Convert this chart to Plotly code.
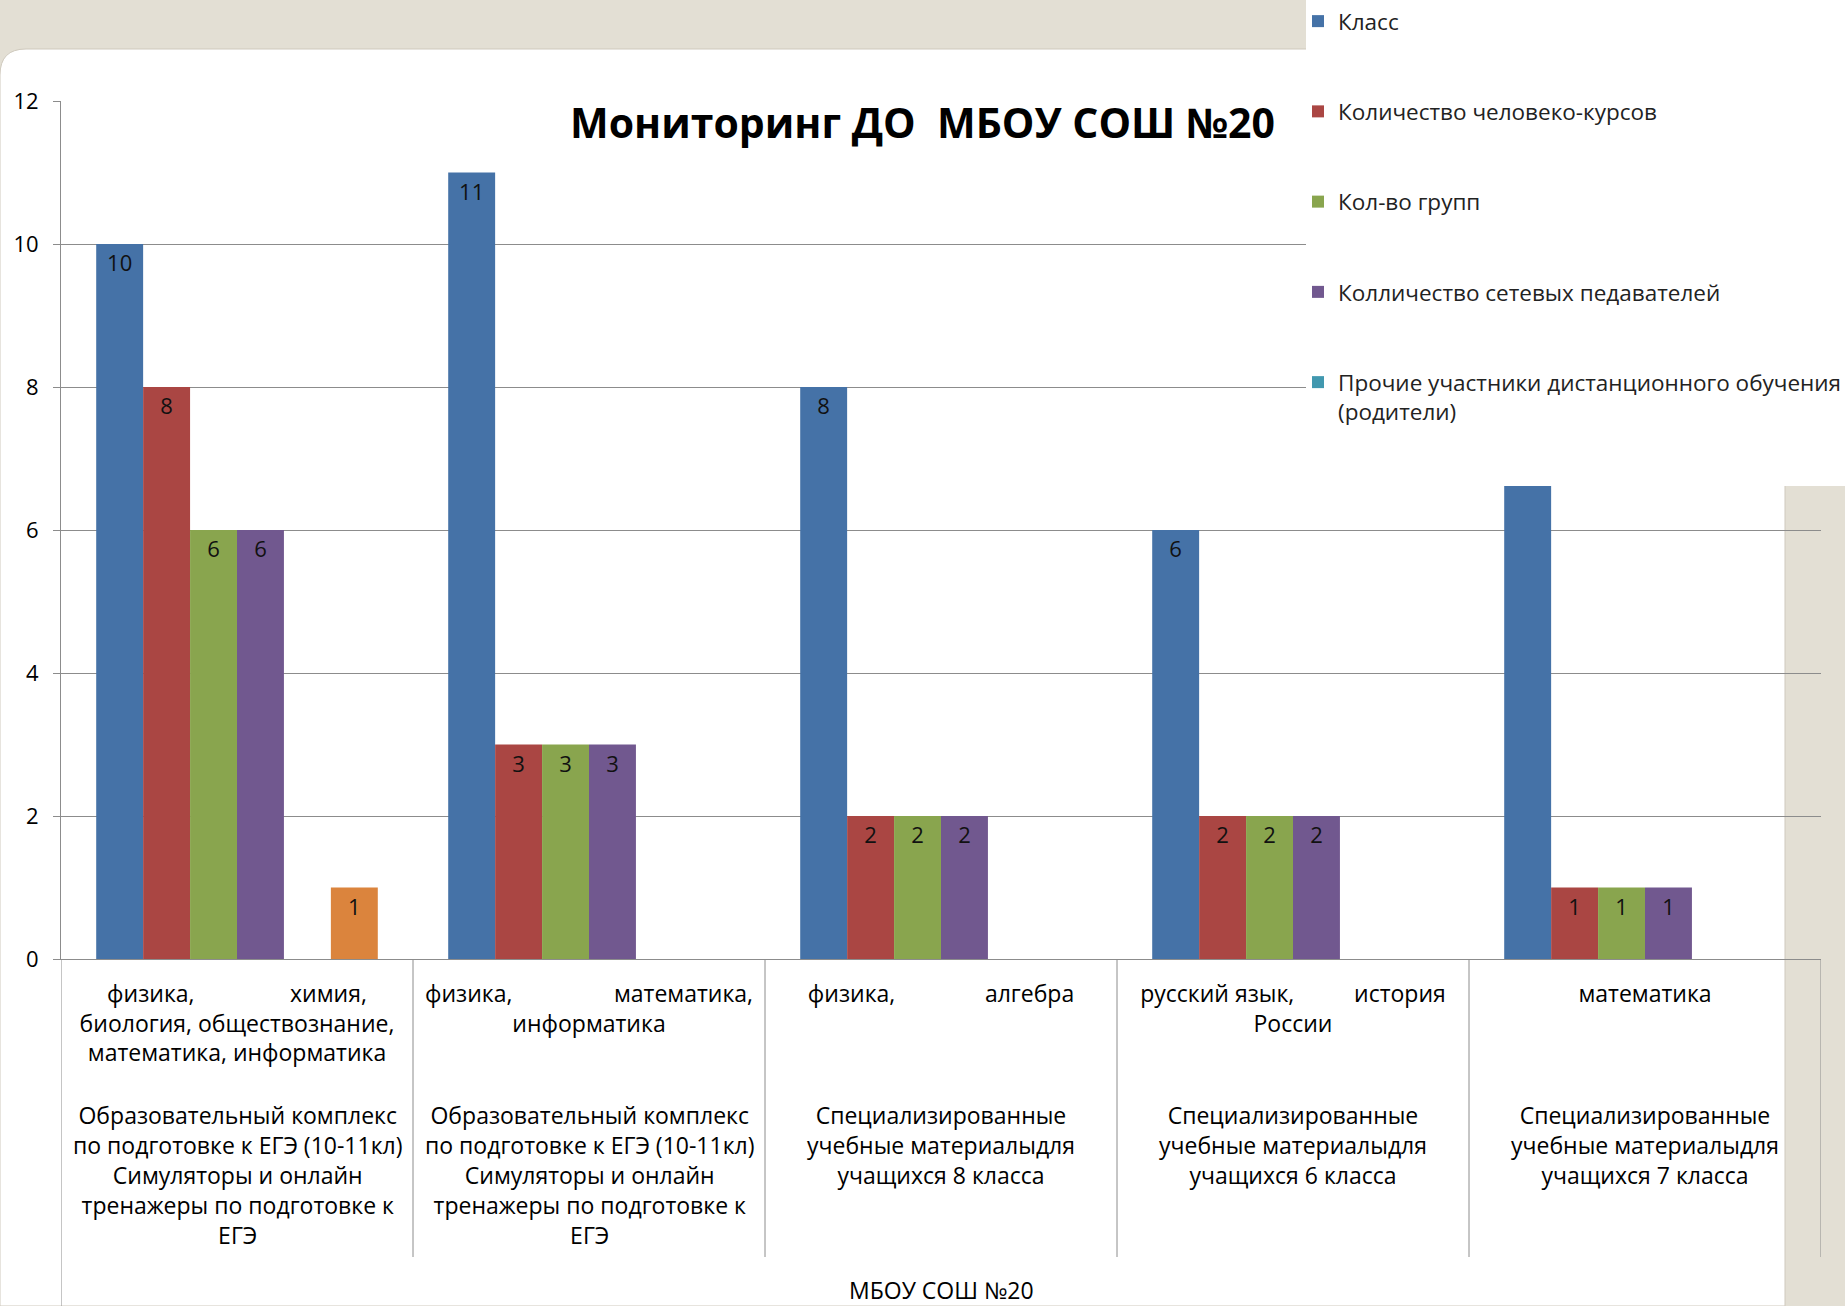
import plotly.graph_objects as go

NB = "\u00a0"

# ---------------- data ----------------
categories = [
    "физика," + NB * 16 + "химия,<br>биология, обществознание,<br>математика, информатика",
    "физика," + NB * 17 + "математика,<br>информатика",
    "физика," + NB * 15 + "алгебра",
    "русский язык," + NB * 10 + "история<br>России",
    "математика",
]
products = [
    "Образовательный комплекс<br>по подготовке к ЕГЭ (10-11кл)<br>Симуляторы и онлайн<br>тренажеры по подготовке к<br>ЕГЭ",
    "Образовательный комплекс<br>по подготовке к ЕГЭ (10-11кл)<br>Симуляторы и онлайн<br>тренажеры по подготовке к<br>ЕГЭ",
    "Специализированные<br>учебные материалыдля<br>учащихся 8 класса",
    "Специализированные<br>учебные материалыдля<br>учащихся 6 класса",
    "Специализированные<br>учебные материалыдля<br>учащихся 7 класса",
]
group_label = "МБОУ СОШ №20"
title_text = "Мониторинг ДО" + NB * 2 + "МБОУ СОШ №20"

series_names = [
    "Класс",
    "Количество человеко-курсов",
    "Кол-во групп",
    "Колличество сетевых педавателей",
    "Прочие участники" + NB + "дистанционного обучения<br>(родители)",
    "Ряд6",
]
klass = [10, 11, 8, 6, 7]
courses = [8, 3, 2, 2, 1]
groups_cnt = [6, 3, 2, 2, 1]
teachers = [6, 3, 2, 2, 1]
others = [None, None, None, None, None]
extra = [1, None, None, None, None]
show_in_legend = [True, True, True, True, True, False]
y_ticks = [0, 2, 4, 6, 8, 10, 12]

colors = ["#4572A7", "#AA4643", "#89A54E", "#71588F", "#4198AF", "#DB843D"]

# ---------------- geometry (page pixels) ----------------
W, H = 1845, 1306
PL, PR, PT, PB = 61, 1821, 101, 959


def xp(px):
    return (px - PL) / (PR - PL)


def yp(py):
    return (PB - py) / (PB - PT)


FONT = "Open Sans, Noto Sans, sans-serif"
GRID = "#8c8c8c"
BEIGE = "#E3DFD4"
LABEL_SIZE = 23

fig = go.Figure()
all_series = [klass, courses, groups_cnt, teachers, others, extra]
for name, vals, col, show in zip(series_names, all_series, colors, show_in_legend):
    fig.add_trace(go.Bar(
        x=categories, y=vals, name=name,
        marker=dict(color=col, line=dict(width=0)),
        texttemplate="%{y}", textposition="inside", insidetextanchor="end",
        textangle=0, constraintext="none",
        textfont=dict(size=22, color="#111111", family=FONT),
        legendgroup=name, showlegend=show, hoverinfo="skip",
    ))

shapes = []
# white slide area with rounded top-left corner
r = 26
top = 49
path = (f"M {xp(0)},{yp(H)} L {xp(0)},{yp(top + r)} Q {xp(0)},{yp(top)} {xp(r)},{yp(top)} "
        f"L {xp(1785)},{yp(top)} L {xp(1785)},{yp(H)} Z")
shapes.append(dict(type="path", path=path, xref="paper", yref="paper",
                   fillcolor="white", line=dict(color="#cfc9bd", width=1), layer="below"))
# dividers between categories
n = len(categories)
for i in range(n + 1):
    bottom = H if i == 0 else 1257
    shapes.append(dict(type="line", xref="x", yref="paper", x0=i - 0.5, x1=i - 0.5,
                       y0=0, y1=yp(bottom), line=dict(color=GRID, width=1), layer="above"))
# legend box (covers top of chart)
shapes.append(dict(type="rect", xref="paper", yref="paper",
                   x0=xp(1306), x1=xp(W), y0=yp(486), y1=yp(0),
                   fillcolor="white", line=dict(width=0), layer="above"))

annotations = []
for cat, txt in zip(categories, products):
    annotations.append(dict(x=cat, xref="x", y=yp(1097), yref="paper", yanchor="top",
                            text=txt, showarrow=False, align="center",
                            font=dict(size=LABEL_SIZE, color="#000000", family=FONT)))
annotations.append(dict(x=0.5, xref="paper", y=yp(1290), yref="paper", yanchor="middle",
                        text=group_label, showarrow=False,
                        font=dict(size=LABEL_SIZE, color="#000000", family=FONT)))

fig.update_layout(
    width=W, height=H, autosize=False,
    margin=dict(l=PL, r=W - PR, t=PT, b=H - PB, pad=0, autoexpand=False),
    paper_bgcolor=BEIGE, plot_bgcolor="rgba(0,0,0,0)",
    barmode="group", bargap=0.2, bargroupgap=0,
    font=dict(family=FONT, color="#000000"),
    title=dict(text="<b>" + title_text + "</b>", x=0.5, xref="container", xanchor="center",
               y=1 - 124 / H, yref="container", yanchor="middle",
               font=dict(size=41, color="#000000", family=FONT)),
    xaxis=dict(type="category", range=[-0.5, n - 0.5], showline=True, linecolor=GRID,
               linewidth=1, showgrid=False, ticks="", tickangle=0,
               tickfont=dict(size=LABEL_SIZE, color="#000000", family=FONT),
               ticklabelstandoff=14, zeroline=False, fixedrange=True),
    yaxis=dict(range=[0, 12], tickvals=y_ticks, showgrid=True, gridcolor=GRID, gridwidth=1,
               showline=True, linecolor=GRID, linewidth=1, ticks="outside", ticklen=7,
               tickcolor=GRID, tickfont=dict(size=22, color="#000000", family=FONT),
               ticklabelstandoff=10, zeroline=False, fixedrange=True),
    legend=dict(xref="container", yref="container", x=1298 / W, y=1.0,
                xanchor="left", yanchor="top",
                bgcolor="rgba(0,0,0,0)", font=dict(size=22.5, color="#222222", family=FONT),
                tracegroupgap=58, valign="top", itemwidth=30, traceorder="grouped"),
    shapes=shapes, annotations=annotations,
)

fig.write_html("out.html", config={"displayModeBar": False},
               post_script="document.body.style.margin='0';")
